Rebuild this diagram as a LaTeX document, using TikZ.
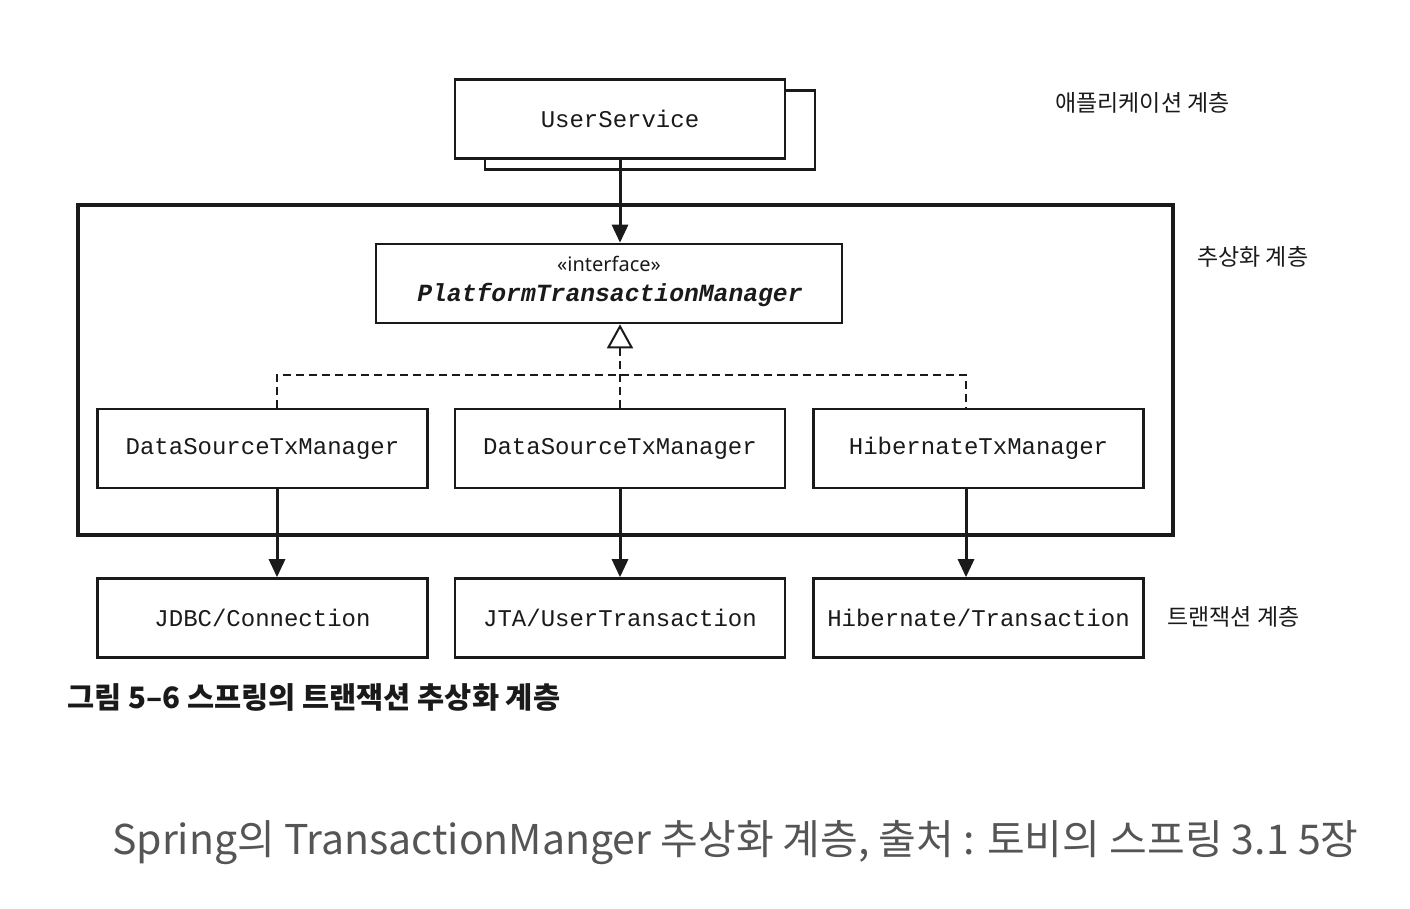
\documentclass[tikz,border=0pt]{standalone}
\usepackage{fontspec}
\setmonofont{Liberation Mono}
\newfontfamily\kr{Noto Sans CJK KR}
\newfontfamily\nsans{Noto Sans}
\usetikzlibrary{arrows.meta}
\definecolor{capgray}{HTML}{555555}
\definecolor{ink}{HTML}{1A1A1A}
\begin{document}
\begin{tikzpicture}[x=1pt,y=-1pt,
  box/.style={draw=ink,line width=2.6pt,minimum width=330pt,minimum height=79pt,inner sep=0pt,
    font=\fontsize{24}{28}\selectfont\ttfamily,text=ink},
  flow/.style={draw=ink,line width=3pt,-{Triangle[length=18pt,width=16pt]}},
  realize/.style={draw=ink,line width=2pt,dash pattern=on 8pt off 5pt},
  layer/.style={font=\kr\fontsize{23}{26}\selectfont,text=ink,anchor=west,inner sep=0pt}]
\useasboundingbox (0,0) rectangle (1410,908);
% frame
\node[draw=ink,line width=4.5pt,minimum width=1095pt,minimum height=330pt,inner sep=0pt] (frame) at (625.5,370) {};
% user service with shadow
\node[draw=ink,line width=2.6pt,minimum width=330pt,minimum height=79pt,inner sep=0pt] (us2) at (650,130) {};
\node[box,fill=white] (us) at (620,119) {UserService};
% interface
\node[draw=ink,line width=2.6pt,minimum width=466pt,minimum height=79pt,inner sep=0pt] (pi) at (609,283.5) {};
\node[font=\nsans\fontsize{20}{22}\selectfont,text=ink,inner sep=0pt] (pis) at (609,264) {«interface»};
\node[font=\fontsize{24.7}{28}\selectfont\ttfamily\bfseries\itshape,text=ink,inner sep=0pt] (pin) at (610,295) {PlatformTransactionManager};
% managers
\node[box] (b1) at (262.5,448.5) {DataSourceTxManager};
\node[box] (b2) at (620,448.5) {DataSourceTxManager};
\node[box] (b3) at (978.5,448.5) {HibernateTxManager};
% resources
\node[box] (r1) at (262.5,618) {JDBC/Connection};
\node[box] (r2) at (620,618) {JTA/UserTransaction};
\node[box] (r3) at (978.5,618) {Hibernate/Transaction};
% coordinates for connector columns
\coordinate (c1) at (277,0);
\coordinate (c2) at (620,0);
\coordinate (c3) at (966,0);
\coordinate (dj) at (620,375);
% connectors
\draw[flow] (us.south -| c2) -- (pi.north -| c2);
\draw[realize] (b1.north -| c1) -- (c1 |- dj) -- (c3 |- dj) -- (b3.north -| c3);
\draw[realize,-{Triangle[open,length=24pt,width=26pt,line width=2pt]}] (b2.north -| c2) -- (pi.south -| c2);
\draw[flow] (b1.south -| c1) -- (r1.north -| c1);
\draw[flow] (b2.south -| c2) -- (r2.north -| c2);
\draw[flow] (b3.south -| c3) -- (r3.north -| c3);
% layer labels
\node[layer] (l1) at (1055,103) {애플리케이션 계층};
\node[layer] (l2) at (1197,257) {추상화 계층};
\node[layer] (l3) at (1167,617) {트랜잭션 계층};
% captions
\node[font=\kr\bfseries\fontsize{29.5}{32}\selectfont,text=ink,anchor=west,inner sep=0pt] (cap) at (67,697) {그림 5–6 스프링의 트랜잭션 추상화 계층};
\node[font=\kr\fontsize{41}{45}\selectfont,text=capgray,anchor=west,inner sep=0pt] (src) at (112,843) {Spring의 TransactionManger 추상화 계층, 출처 : 토비의 스프링 3.1 5장};
\end{tikzpicture}
\end{document}
